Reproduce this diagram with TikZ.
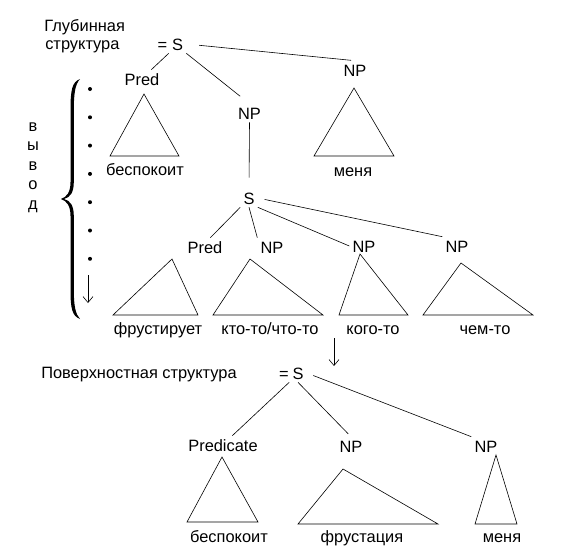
\documentclass[tikz,border=0pt]{standalone}
\usepackage{fontspec}
\setmainfont{Liberation Sans}
\usetikzlibrary{arrows.meta}

\newcommand\subtree[3]{\draw (#1) -- (#2) -- (#3) -- cycle;}

\begin{document}
\begin{tikzpicture}[x=1pt,y=-1pt,line width=0.6pt,
  >={Straight Barb[length=6pt,width=10pt]},
  every node/.style={font=\fontsize{16.4}{19}\selectfont},
  lbl/.style={inner sep=3pt,text height=12pt,text depth=0pt},
  leaf/.style={inner sep=0pt,anchor=base}]
\useasboundingbox (0,0) rectangle (566,554);

\node[leaf,anchor=base west] (deep1) at (44,31)    {Глубинная};
\node[leaf,anchor=base west] (deep2) at (45,49.5)  {структура};
\node[leaf,anchor=base west] (surf)  at (41,378.5) {Поверхностная структура};

\node[lbl] (eq1)    at (162.5,44) {=};
\node[lbl] (s1)     at (177.5,44) {S};
\node[lbl] (pred1)  at (142,79)   {Pred};
\node[lbl] (np1)    at (249.5,113) {NP};
\node[lbl] (npR1)   at (355,70)   {NP};
\node[lbl] (s2)     at (249,198)  {S};
\node[lbl] (pred2)  at (205,247)  {Pred};
\node[lbl] (np2)    at (272,247)  {NP};
\node[lbl] (np3)    at (364,246)  {NP};
\node[lbl] (np4)    at (457,246)  {NP};
\node[lbl] (eq3)    at (284,373)  {=};
\node[lbl] (s3)     at (298,373)  {S};
\node[lbl] (predc)  at (223,445)  {Predicate};
\node[lbl] (np5)    at (351,446)  {NP};
\node[lbl] (np6)    at (486,446)  {NP};

\path (s1.south west) edge (pred1.45);
\path (s1.south east) edge[shorten >=12pt] (np1.north);
\path (s1.east) edge[shorten <=13pt,shorten >=4pt] (npR1.north);
\path (np1.south) edge[shorten >=11pt] (s2.north);
\path (s2.south west) edge (pred2.60);
\path (s2.south) edge (np2.north west);
\path (s2.south east) edge (np3.west);
\path (s2.east) edge[shorten <=7pt] (np4.north west);
\path (s3.south west) edge (predc.45);
\path (s3.south) edge[shorten >=4pt] (np5.north);
\path (s3.east) edge[shorten <=7pt] (np6.north west);

\subtree{144,94}{110,156}{179,156}
\subtree{354,88}{314,156}{394,156}
\subtree{172,259}{113,315}{198,315}
\subtree{250,259}{213,315}{323,315}
\subtree{360,254}{339,315}{408,315}
\subtree{461,263}{423,315}{533,315}
\subtree{222,457}{187,522}{258,522}
\subtree{343,469}{298,524}{438,524}
\subtree{496,455}{475,524}{517,524}

\node[leaf] (w1) at (145,175.5) {беспокоит};
\node[leaf] (w2) at (353,176)   {меня};
\node[leaf] (w3) at (158,334)   {фрустирует};
\node[leaf] (w4) at (270,334)   {кто-то/что-то};
\node[leaf] (w5) at (373,334)   {кого-то};
\node[leaf] (w6) at (485,334)   {чем-то};
\node[leaf] (w7) at (229,542)   {беспокоит};
\node[leaf] (w8) at (362,542)   {фрустация};
\node[leaf] (w9) at (502,542)   {меня};

\foreach \ch [count=\i from 0] in {в,ы,в,о,д}
  \node[leaf] (v\i) at (33,131+19.5*\i) {\ch};

\fill (80,79) .. controls (72,82) and (70.5,90) .. (70.5,110) -- (70.5,182)
  .. controls (70.5,192) and (67,197) .. (61,199)
  .. controls (67,201) and (70.5,206) .. (70.5,216) -- (70.5,290)
  .. controls (70.5,308) and (72,316) .. (80,319)
  .. controls (75.5,314) and (73.8,306) .. (73.8,290) -- (73.8,216)
  .. controls (73.8,206) and (70.5,200.5) .. (64,199)
  .. controls (70.5,197.5) and (73.8,192) .. (73.8,182) -- (73.8,110)
  .. controls (73.8,92) and (75.5,84) .. (80,79) -- cycle;

\foreach \i in {0,...,6}
  \fill (90,89+28.3*\i) circle (2);

\coordinate (d1) at (88,275);
\coordinate (d2) at (88,303);
\draw[->] (d1) -- (d2);

\coordinate (t1) at (334,338);
\coordinate (t2) at (334,366);
\draw[->] (t1) -- (t2);
\end{tikzpicture}
\end{document}
